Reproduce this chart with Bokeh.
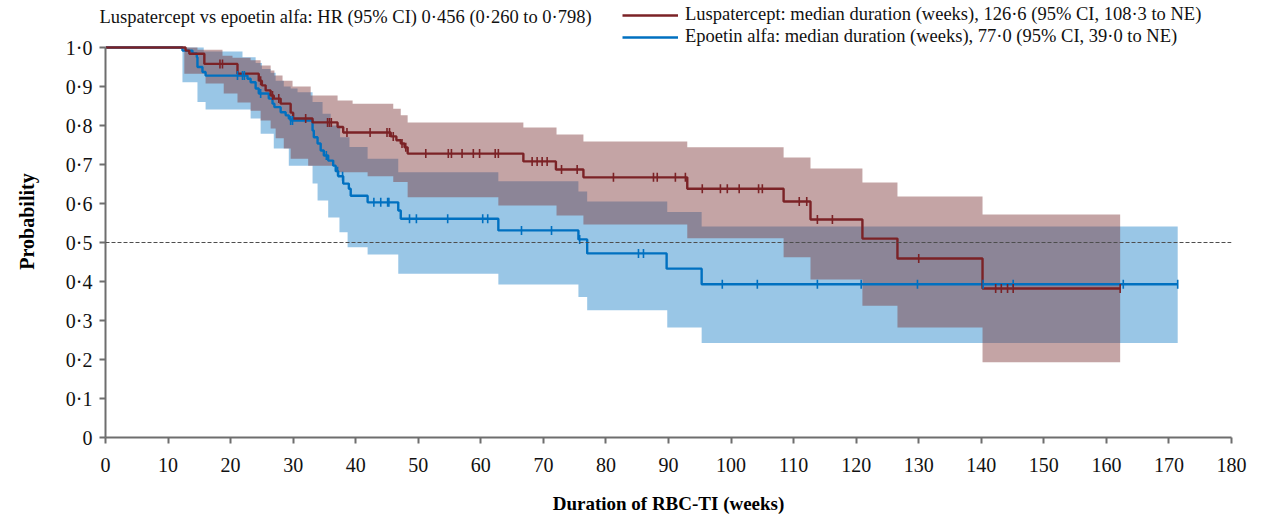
import numpy as np
from bokeh.plotting import figure
from bokeh.models import Span, Legend, LegendItem, FixedTicker, Range1d, Title
from bokeh.embed import file_html
from bokeh.resources import INLINE

# ---------------- data ----------------
x_ticks = list(range(0, 181, 10))
y_ticks = [0, 0.1, 0.2, 0.3, 0.4, 0.5, 0.6, 0.7, 0.8, 0.9, 1.0]
y_tick_labels = ["0", "0\u00b71", "0\u00b72", "0\u00b73", "0\u00b74", "0\u00b75",
                 "0\u00b76", "0\u00b77", "0\u00b78", "0\u00b79", "1\u00b70"]

title_text = "Luspatercept vs epoetin alfa: HR (95% CI) 0\u00b7456 (0\u00b7260 to 0\u00b7798)"
lusp_label = "Luspatercept: median duration (weeks), 126\u00b76 (95% CI, 108\u00b73 to NE)"
epo_label = "Epoetin alfa: median duration (weeks), 77\u00b70 (95% CI, 39\u00b70 to NE)"

# Luspatercept KM curve (event times, survival after event)
lusp_t = [12.8, 13.4, 15.8, 21.1, 24.5, 25.0, 25.6, 26.4, 26.9, 28.0, 29.6, 30.0, 33.1,
          37.1, 38.0, 45.6, 46.5, 47.2, 47.8, 48.3, 66.8, 72.0, 76.4, 93.0, 108.4,
          112.7, 121.0, 126.6, 140.2]
lusp_s = [0.992, 0.984, 0.958, 0.933, 0.915, 0.903, 0.890, 0.877, 0.869, 0.856, 0.833,
          0.818, 0.808, 0.796, 0.782, 0.772, 0.762, 0.754, 0.744, 0.728, 0.708, 0.687,
          0.667, 0.638, 0.605, 0.559, 0.510, 0.459, 0.382]
lusp_end = 162.2
lusp_cens = [18.3, 18.7, 24.8, 26.7, 27.7, 32.0, 35.5, 35.8, 36.1, 38.6, 42.3, 45.0, 45.4,
             46.0, 47.4, 48.0, 51.2, 54.8, 55.3, 57.0, 58.8, 59.8, 62.3, 62.8, 68.2, 69.0,
             69.8, 70.6, 72.9, 75.4, 81.2, 87.6, 88.2, 91.1, 92.7, 95.4, 98.3, 99.4, 101.3,
             104.4, 105.0, 110.9, 112.1, 113.8, 116.2, 130.0, 142.3, 143.2, 144.2, 145.1,
             162.2]
lusp_hi_t = [12.6, 14.7, 18.7, 20.3, 23.2, 24.8, 26.4, 27.0, 28.3, 29.9, 32.8, 37.1, 39.5,
             46.0, 47.2, 48.3, 66.8, 72.1, 76.4, 93.0, 108.4, 112.7, 121.0, 126.6, 140.2]
lusp_hi_v = [1.0, 0.994, 0.979, 0.974, 0.967, 0.954, 0.941, 0.928, 0.915, 0.900, 0.877,
             0.864, 0.856, 0.843, 0.826, 0.808, 0.795, 0.777, 0.759, 0.744, 0.718, 0.690,
             0.654, 0.618, 0.572]
lusp_lo_t = [12.6, 16.0, 18.9, 21.1, 23.2, 24.8, 26.4, 27.2, 28.5, 29.6, 32.4, 36.8, 41.9,
             46.0, 48.3, 62.8, 72.1, 76.4, 93.0, 108.4, 112.7, 121.0, 126.6, 140.2]
lusp_lo_v = [0.933, 0.908, 0.882, 0.859, 0.838, 0.813, 0.792, 0.767, 0.741, 0.715, 0.697,
             0.680, 0.670, 0.655, 0.616, 0.595, 0.569, 0.546, 0.511, 0.462, 0.405, 0.338,
             0.282, 0.193]

# Epoetin alfa KM curve
epo_t = [12.3, 13.9, 14.6, 14.7, 15.5, 16.0, 22.7, 23.2, 24.0, 24.5, 26.1, 26.7, 27.0,
         28.0, 28.8, 29.3, 29.6, 33.1, 33.3, 33.9, 34.4, 34.9, 35.6, 36.4, 36.8, 37.2,
         38.0, 38.9, 39.2, 41.9, 46.8, 47.2, 62.8, 75.6, 77.0, 89.7, 95.3]
epo_s = [0.992, 0.985, 0.975, 0.950, 0.937, 0.928, 0.920, 0.911, 0.895, 0.882, 0.869,
         0.856, 0.847, 0.834, 0.826, 0.818, 0.813, 0.787, 0.770, 0.754, 0.736, 0.723,
         0.710, 0.697, 0.683, 0.670, 0.651, 0.638, 0.620, 0.603, 0.582, 0.561, 0.531,
         0.508, 0.472, 0.433, 0.393]
epo_end = 171.4
epo_cens = [21.1, 21.9, 22.2, 24.8, 29.6, 29.9, 35.3, 37.1, 37.9, 42.9, 44.0, 45.1, 45.3,
            48.6, 49.7, 54.7, 60.3, 61.1, 66.5, 71.3, 75.8, 85.2, 86.0, 98.6, 104.2,
            113.8, 120.8, 129.8, 140.3, 145.1, 162.7, 171.4]
epo_hi_t = [12.3, 15.7, 21.9, 24.0, 25.0, 26.4, 27.2, 28.5, 29.6, 30.7, 33.1, 34.7, 36.0,
            37.5, 39.0, 41.9, 46.8, 62.8, 75.6, 77.0, 89.8, 95.3]
epo_hi_v = [1.0, 0.990, 0.975, 0.960, 0.945, 0.935, 0.915, 0.900, 0.895, 0.885, 0.860,
            0.830, 0.800, 0.770, 0.745, 0.715, 0.680, 0.657, 0.631, 0.605, 0.578, 0.541]
epo_lo_t = [12.3, 14.7, 16.0, 23.2, 24.8, 26.9, 29.3, 33.1, 33.9, 35.6, 37.4, 38.7, 41.9,
            46.8, 62.8, 75.6, 77.0, 89.8, 95.3]
epo_lo_v = [0.911, 0.860, 0.841, 0.818, 0.779, 0.741, 0.697, 0.651, 0.608, 0.564, 0.526,
            0.488, 0.469, 0.420, 0.392, 0.360, 0.326, 0.282, 0.242]

# ---------------- helpers ----------------
def step_eval(ts, vs, t, before=1.0):
    ts = np.asarray(ts); vs = np.asarray(vs)
    idx = np.searchsorted(ts, t, side="right") - 1
    return np.where(idx >= 0, vs[np.clip(idx, 0, None)], before)

def km_xy(ts, vs, end):
    xs, ys = [0.0], [1.0]
    prev = 1.0
    for t, v in zip(ts, vs):
        xs += [t, t]; ys += [prev, v]; prev = v
    xs.append(end); ys.append(prev)
    return xs, ys

def band_xy(lo_t, lo_v, hi_t, hi_v, end):
    b = sorted(set(lo_t) | set(hi_t))
    xs, lo, hi = [], [], []
    for i, t in enumerate(b):
        if i > 0:
            xs.append(t); lo.append(float(step_eval(lo_t, lo_v, b[i - 1])))
            hi.append(float(step_eval(hi_t, hi_v, b[i - 1])))
        xs.append(t); lo.append(float(step_eval(lo_t, lo_v, t)))
        hi.append(float(step_eval(hi_t, hi_v, t)))
    xs.append(end); lo.append(lo[-1]); hi.append(hi[-1])
    return xs, lo, hi

RED = "#7b2226"
BLUE = "#0070c0"
FONT = "Liberation Serif"

p = figure(width=1265, height=518, output_backend="svg", toolbar_location=None,
           x_range=Range1d(0, 180), y_range=Range1d(0, 1.1077),
           min_border_left=105, min_border_right=34, min_border_top=5, min_border_bottom=81)
p.outline_line_color = None
p.xgrid.visible = False
p.ygrid.visible = False
p.background_fill_color = "white"

p.title = Title(text=title_text, align="left", offset=-6, text_font=FONT,
                text_font_size="18.5px", text_font_style="normal",
                text_color="#111111", standoff=-42)

# bands
bx, blo, bhi = band_xy(epo_lo_t, epo_lo_v, epo_hi_t, epo_hi_v, epo_end)
p.varea(x=bx, y1=blo, y2=bhi, fill_color=BLUE, fill_alpha=0.40)
rx, rlo, rhi = band_xy(lusp_lo_t, lusp_lo_v, lusp_hi_t, lusp_hi_v, lusp_end)
p.varea(x=rx, y1=rlo, y2=rhi, fill_color="#7c3537", fill_alpha=0.45)

# reference line at 0.5
p.add_layout(Span(location=0.5, dimension="width", line_color="#4d4d4d",
                  line_dash="4 2", line_width=1.2))

# KM curves
ex, ey = km_xy(epo_t, epo_s, epo_end)
r_epo = p.line(ex, ey, line_color=BLUE, line_width=2.4)
lx, ly = km_xy(lusp_t, lusp_s, lusp_end)
r_lusp = p.line(lx, ly, line_color=RED, line_width=2.4)

# censor marks
p.scatter(epo_cens, step_eval(epo_t, epo_s, epo_cens), marker="dash", angle=np.pi / 2,
          size=9, line_color=BLUE, line_width=1.6)
p.scatter(lusp_cens, step_eval(lusp_t, lusp_s, lusp_cens), marker="dash", angle=np.pi / 2,
          size=9, line_color=RED, line_width=1.6)

# axes
for ax in (p.xaxis[0], p.yaxis[0]):
    ax.axis_line_color = "#6e6e6e"
    ax.axis_line_width = 2
    ax.major_tick_line_color = "#6e6e6e"
    ax.major_tick_line_width = 2
    ax.major_tick_out = 6
    ax.major_tick_in = 0
    ax.minor_tick_line_color = None
    ax.major_label_text_font = FONT
    ax.major_label_text_font_size = "20px"
    ax.major_label_text_color = "#111111"
    ax.axis_label_text_font = FONT
    ax.axis_label_text_font_style = "bold"
    ax.axis_label_text_color = "#000000"

p.xaxis.ticker = FixedTicker(ticks=x_ticks)
p.xaxis.bounds = (0, 180)
p.xaxis.major_label_standoff = 14
p.xaxis.axis_label = "Duration of RBC-TI (weeks)"
p.xaxis.axis_label_text_font_size = "19px"
p.xaxis.axis_label_standoff = 18

p.yaxis.ticker = FixedTicker(ticks=y_ticks)
p.yaxis.bounds = (0, 1)
p.yaxis.major_label_overrides = {t: l for t, l in zip(y_ticks, y_tick_labels)}
p.yaxis.major_label_standoff = 7
p.yaxis.axis_label = "Probability"
p.yaxis.axis_label_text_font_size = "20px"
p.yaxis.axis_label_standoff = 25

# legend
legend = Legend(items=[LegendItem(label=lusp_label, renderers=[r_lusp]),
                       LegendItem(label=epo_label, renderers=[r_epo])],
                location=(517, 390), orientation="vertical",
                label_text_font=FONT, label_text_font_size="18.5px",
                label_text_color="#111111", glyph_width=56, glyph_height=20,
                label_height=20, spacing=1, padding=0, margin=0, label_standoff=7,
                border_line_color=None, background_fill_alpha=0)
p.add_layout(legend, "center")

open("out.html", "w").write(file_html(p, INLINE))
